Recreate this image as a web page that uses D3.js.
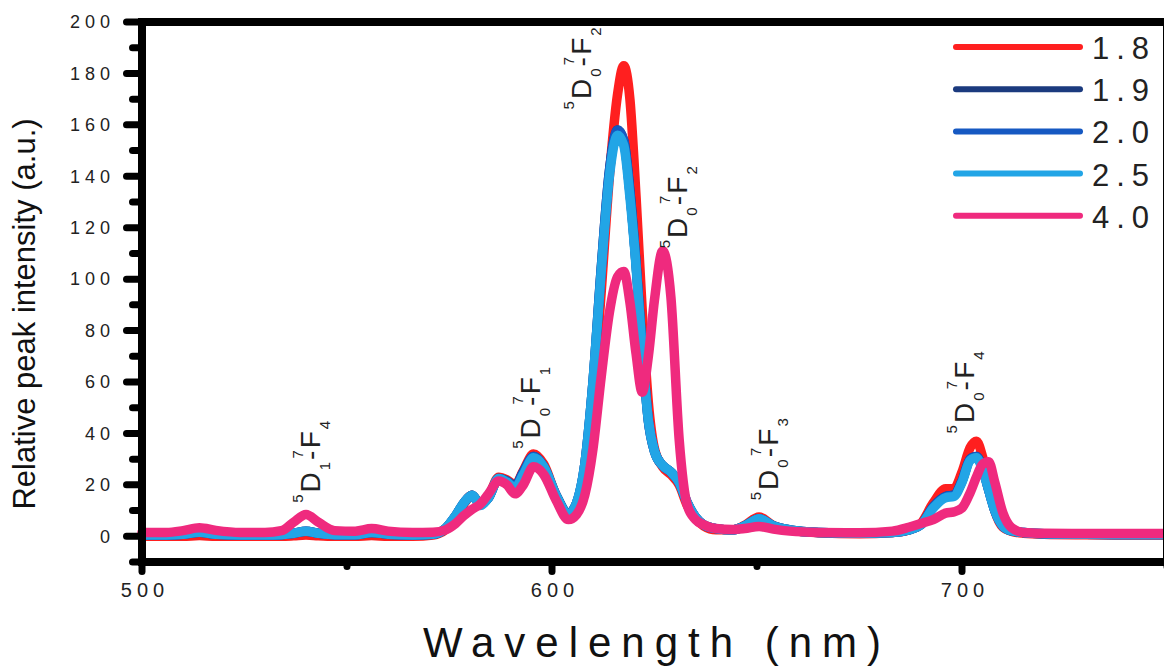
<!DOCTYPE html>
<html>
<head>
<meta charset="utf-8">
<script src="https://cdn.jsdelivr.net/npm/d3@7"></script>
<style>
  body { margin: 0; background: #fff; }
  svg { display: block; font-family: "Liberation Sans", Arial, sans-serif; }
</style>
</head>
<body>
<script>
// wavelengths (nm) shared by all series
const wavelength = [500, 506, 510, 514, 518, 524, 530, 534, 537, 540, 543, 547, 552, 556, 560, 566, 571, 574, 576.5, 578.5,
  580.5, 582.5, 584.5, 587, 589, 591, 593, 595.5, 598, 601, 604, 606, 608, 610, 612, 614, 616, 617.5, 619, 620.5,
  622, 623.5, 625, 627, 629, 631, 633, 635, 637, 640, 644, 647, 650.5, 654, 658, 665, 675, 683, 687, 690,
  693, 696, 698, 700, 702, 703.5, 705, 706.5, 708, 710, 712, 715, 720, 730, 740, 750]

const s18 = [0, 0, 0, 0.3, 0, 0, 0, 0, 0.2, 0.5, 0.2, 0, 0, 0.3, 0, 0, 0.5, 2.5, 7, 12.5,
  16, 12.5, 15.5, 23, 22, 20, 25.5, 32, 28, 16, 8.5, 12, 24, 52, 95, 140, 172, 183, 170, 132,
  88, 52, 34, 27, 24, 20, 12, 7, 4, 2.5, 2.5, 4.3, 7.5, 4.2, 2.4, 1.4, 1, 1.5, 2.5, 5,
  13, 18.5, 18.5, 25, 34.5, 37, 31, 20, 10, 3.5, 2, 1.2, 0.8, 0.6, 0.5, 0.5]

const s19 = [0.5, 0.5, 0.8, 1.6, 0.8, 0.5, 0.5, 0.6, 1.2, 2, 1.2, 0.6, 0.6, 1.5, 0.8, 0.5, 0.8, 3, 8, 13,
  16, 12.5, 15, 22.5, 21.5, 19.5, 25, 31, 27, 16, 8.8, 13, 28, 60, 104, 142, 158, 154, 134, 106,
  73, 45, 33, 27.5, 25, 21, 13, 7.5, 4.5, 3, 2.5, 4, 6.8, 4, 2.5, 1.5, 1.2, 1.5, 2.5, 4.5,
  11.5, 15.5, 16, 21.5, 30, 31, 26.5, 18, 10, 4, 2.2, 1.5, 1, 0.8, 0.7, 0.7]

const s20 = [0.5, 0.5, 0.8, 1.6, 0.8, 0.5, 0.5, 0.6, 1.2, 2, 1.2, 0.6, 0.6, 1.5, 0.8, 0.5, 0.8, 3, 8, 13,
  16, 12.5, 15, 22.5, 21.5, 19.5, 25, 31, 27, 16, 8.8, 13, 28, 60, 104, 142, 158, 154, 134, 106,
  73, 45, 33, 27.5, 25, 21, 13, 7.5, 4.5, 3, 2.5, 4, 6.8, 4, 2.5, 1.5, 1.2, 1.5, 2.5, 4.5,
  11.5, 15.5, 16, 21.5, 30, 31, 26.5, 18, 10, 4, 2.2, 1.5, 1, 0.8, 0.7, 0.7]

const s25 = [0.5, 0.5, 0.8, 1.6, 0.8, 0.5, 0.5, 0.6, 1.2, 2, 1.2, 0.6, 0.6, 1.5, 0.8, 0.5, 0.8, 3, 8, 13,
  16, 12, 15, 22.5, 21, 19, 24, 30.5, 27, 16, 8.5, 13, 28, 60, 103, 140, 156, 152, 132, 105,
  72, 45, 33, 27.5, 25, 21, 13, 7.5, 4.5, 3, 2.5, 4, 6.8, 4, 2.5, 1.5, 1.2, 1.5, 2.5, 4.5,
  11, 15, 15.5, 21, 29.5, 30.5, 26, 18, 10, 4, 2.2, 1.5, 1, 0.8, 0.7, 0.7]

const s40 = [1.5, 1.5, 2.2, 3.3, 2.3, 1.5, 1.5, 2.2, 5.5, 8.5, 5.5, 2.2, 2, 3, 2, 1.5, 1.6, 2.5, 5, 8,
  10.5, 12.5, 16.5, 21.5, 20, 16.5, 20, 27, 24, 14, 6.5, 8.5, 16, 34, 62, 87, 101, 103, 91, 71,
  56, 70, 92, 111, 93, 38, 12, 6.5, 4.5, 3, 2.6, 3, 3.8, 2.8, 2, 1.5, 1.4, 2, 3.5, 5,
  6.5, 9, 9.5, 11, 17, 23, 28, 29, 21, 9, 3.5, 1.5, 1.2, 1.1, 1.1, 1.1]

const seriesNames = ["1.8", "1.9", "2.0", "2.5", "4.0"]
const seriesValues = [s18, s19, s20, s25, s40]
const seriesColors = ["#ff1f1f", "#1b3a7e", "#1659c2", "#22a5e6", "#ef2a7e"]

// transition labels: 5D(J) - 7F(J')
const labelLevels = [["1", "4"], ["0", "1"], ["0", "2"], ["0", "2"], ["0", "3"], ["0", "4"]]
const labelWl = [543.5, 597, 609.5, 633, 655, 703]
const labelVal = [13, 34, 166, 112, 14, 40]

const yMajor = d3.range(0, 201, 20)
const yMinor = d3.range(-10, 200, 20)
const xMajor = [500, 600, 700]
const xMinor = [550, 650, 750]

const W = 1164, H = 667
const svg = d3.select("body").append("svg").attr("width", W).attr("height", H)

const x = d3.scaleLinear().domain([500, 750]).range([142, 1167])
const y = d3.scaleLinear().domain([-10, 200]).range([562, 22])

// spectra
const line = d3.line()
  .x((d, i) => x(wavelength[i]))
  .y(d => y(d))
  .curve(d3.curveMonotoneX)

svg.append("g").selectAll("path")
  .data(seriesValues)
  .enter()
  .append("path")
    .attr("d", d => line(d))
    .attr("fill", "none")
    .attr("stroke", (d, i) => seriesColors[i])
    .attr("stroke-width", 9.5)
    .attr("stroke-linejoin", "round")
    .attr("stroke-linecap", "round")

// axes: labels from d3 axes, tick marks as thick bars
const yAxis = svg.append("g").attr("transform", `translate(${x(500)},0)`)
  .call(d3.axisLeft(y).tickValues(yMajor).tickSize(0).tickPadding(27))
const xAxis = svg.append("g").attr("transform", `translate(0,${y(-10)})`)
  .call(d3.axisBottom(x).tickValues(xMajor).tickSize(0).tickPadding(21))
yAxis.select(".domain").remove()
xAxis.select(".domain").remove()
yAxis.selectAll(".tick line").remove()
xAxis.selectAll(".tick line").remove()
yAxis.selectAll("text")
  .attr("font-size", 18).attr("letter-spacing", 5).attr("fill", "#222")
  .attr("font-family", "'Liberation Sans', Arial, sans-serif")
xAxis.selectAll("text")
  .attr("font-size", 20).attr("letter-spacing", 5).attr("fill", "#222")
  .attr("font-family", "'Liberation Sans', Arial, sans-serif")
  .attr("dx", 2.5)

// tick bars (rounded rects)
const ticks = svg.append("g").attr("fill", "#000")
ticks.selectAll(null).data(yMajor).enter().append("rect")
  .attr("x", x(500) - 19).attr("width", 19)
  .attr("y", d => y(d) - 3.5).attr("height", 7).attr("rx", 3.5)
ticks.selectAll(null).data(yMinor).enter().append("rect")
  .attr("x", x(500) - 13).attr("width", 13)
  .attr("y", d => y(d) - 3.5).attr("height", 7).attr("rx", 3.5)
ticks.selectAll(null).data(xMajor).enter().append("rect")
  .attr("x", d => x(d) - 3.5).attr("width", 7)
  .attr("y", y(-10)).attr("height", 13).attr("rx", 3.5)
ticks.selectAll(null).data(xMinor).enter().append("rect")
  .attr("x", d => x(d) - 3.5).attr("width", 7)
  .attr("y", y(-10)).attr("height", 8).attr("rx", 3.5)

// frame
svg.append("rect")
  .attr("x", x(500)).attr("y", y(200))
  .attr("width", x(750) - x(500)).attr("height", y(-10) - y(200))
  .attr("fill", "none").attr("stroke", "#000").attr("stroke-width", 8)

// transition labels
labelWl.forEach((w, i) => {
  let t = svg.append("text")
    .attr("transform", `translate(${x(w)},${y(labelVal[i])}) rotate(-90)`)
    .attr("fill", "#222").attr("letter-spacing", 2)
  t.append("tspan").text("5").attr("font-size", 15).attr("dy", -17)
  t.append("tspan").text("D").attr("font-size", 28).attr("dy", 17)
  t.append("tspan").text(labelLevels[i][0]).attr("font-size", 15).attr("dy", 10)
  t.append("tspan").text("-").attr("font-size", 28).attr("dy", -10)
  t.append("tspan").text("7").attr("font-size", 15).attr("dy", -17).attr("dx", -10)
  t.append("tspan").text("F").attr("font-size", 28).attr("dy", 17)
  t.append("tspan").text(labelLevels[i][1]).attr("font-size", 15).attr("dy", 10)
})

// axis titles
svg.append("text")
  .attr("transform", "translate(35,314) rotate(-90)")
  .attr("text-anchor", "middle")
  .attr("font-size", 31).attr("fill", "#111")
  .text("Relative peak intensity (a.u.)")

svg.append("text")
  .attr("x", 657).attr("y", 657)
  .attr("text-anchor", "middle")
  .attr("font-size", 42).attr("letter-spacing", 10).attr("fill", "#111")
  .text("Wavelength (nm)")

// legend
const legend = svg.append("g").selectAll("g")
  .data(seriesNames)
  .enter()
  .append("g")
    .attr("transform", (d, i) => `translate(0,${47 + i * 42.2})`)
legend.append("line")
  .attr("x1", 956).attr("x2", 1080)
  .attr("stroke", (d, i) => seriesColors[i])
  .attr("stroke-width", 6)
  .attr("stroke-linecap", "round")
legend.append("text")
  .attr("x", 1092).attr("y", 12)
  .attr("font-size", 31).attr("letter-spacing", 7).attr("fill", "#222")
  .text(d => d)
</script>
</body>
</html>
